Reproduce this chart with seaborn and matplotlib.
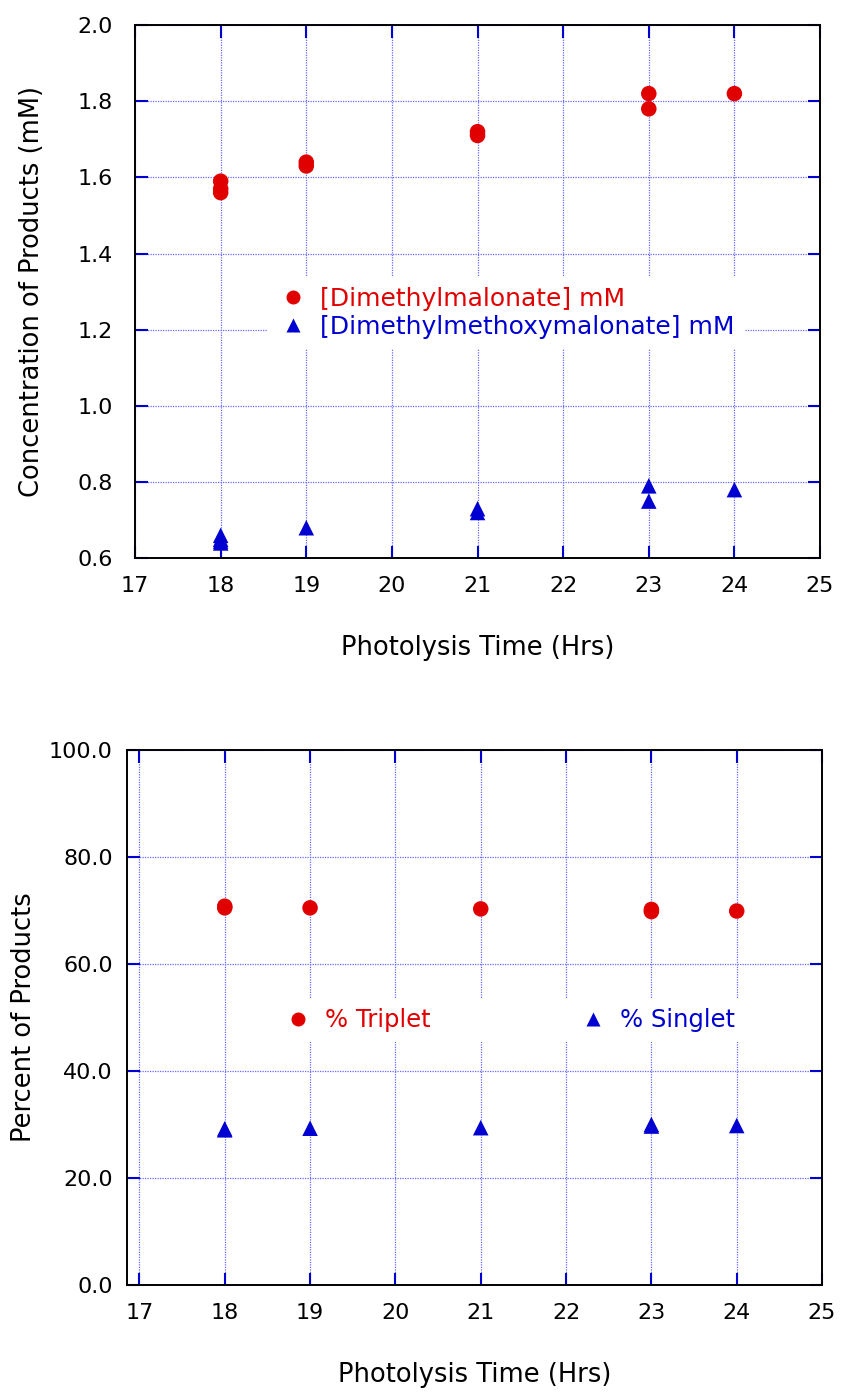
import numpy as np
import pandas as pd
import matplotlib
matplotlib.use("Agg")
import matplotlib.pyplot as plt
import seaborn as sns

# data
dmm_time = [18, 18, 18, 19, 19, 21, 21, 23, 23, 24]
dmm_conc = [1.59, 1.57, 1.56, 1.64, 1.63, 1.72, 1.71, 1.82, 1.78, 1.82]
dmmm_time = [18, 18, 18, 18, 19, 21, 21, 23, 23, 24]
dmmm_conc = [0.66, 0.65, 0.645, 0.64, 0.68, 0.73, 0.72, 0.79, 0.75, 0.78]

pct_time = [18, 18, 19, 21, 23, 23, 24]
triplet_pct = [70.8, 70.5, 70.5, 70.3, 70.2, 69.8, 69.9]
singlet_pct = [29.2, 29.0, 29.3, 29.4, 30.0, 29.7, 29.8]

conc_labels = ["[Dimethylmalonate] mM", "[Dimethylmethoxymalonate] mM"]
pct_labels = ["% Triplet", "% Singlet"]

sns.set_style("white")
plt.rcParams["font.family"] = ["DejaVu Sans"]

RED = "#e00000"
BLUE = "#0000d0"


def style_axes(ax, xlim, ylim, yticks, yfmt, ypad):
    ax.set_xlim(*xlim)
    ax.set_ylim(*ylim)
    ax.set_xticks(range(17, 26))
    ax.set_yticks(yticks)
    ax.set_yticklabels([yfmt.format(v) for v in yticks])
    ax.grid(True, color="#6a6aff", linestyle=(0, (1, 1)), linewidth=0.9)
    ax.set_axisbelow(True)
    ax.tick_params(direction="in", length=9, width=1.5, color=BLUE,
                   bottom=True, left=True, top=True, right=True,
                   labelsize=16, labelcolor="black")
    ax.tick_params(axis="y", pad=ypad)
    ax.tick_params(axis="x", pad=13)
    for s in ax.spines.values():
        s.set_color("black")
        s.set_linewidth(1.4)
    ax.set_xlabel("Photolysis Time (Hrs)", fontsize=18.5, labelpad=28,
                  color="black")


fig = plt.figure(figsize=(8.44, 13.92), dpi=100)

# top panel
ax1 = fig.add_axes([0.16, 0.599, 0.8116, 0.383])
df1 = pd.DataFrame({
    "time": dmm_time + dmmm_time,
    "conc": dmm_conc + dmmm_conc,
    "series": [conc_labels[0]] * len(dmm_time) + [conc_labels[1]] * len(dmmm_time),
})
sns.scatterplot(data=df1, x="time", y="conc", hue="series", style="series",
                palette=[RED, BLUE], markers=["o", "^"], s=125,
                edgecolor="none", ax=ax1, zorder=3)
style_axes(ax1, (17, 25), (0.6, 2.0), np.arange(0.6, 2.01, 0.2), "{:.1f}", 16)
ax1.set_ylabel("Concentration of Products (mM)", fontsize=18.5,
               color="black", va="center")
ax1.yaxis.set_label_coords(-0.15, 0.5)
leg1 = ax1.legend(loc="center", bbox_to_anchor=(0.542, 0.46), fontsize=18,
                  frameon=True, facecolor="white", edgecolor="none", framealpha=1,
                  handlelength=1.2, handletextpad=0.5, labelspacing=0.15,
                  markerscale=0.9, borderpad=0.4)
for t, c in zip(leg1.get_texts(), [RED, BLUE]):
    t.set_color(c)

# bottom panel
ax2 = fig.add_axes([0.150, 0.0769, 0.824, 0.3843])
df2 = pd.DataFrame({
    "time": pct_time + pct_time,
    "pct": triplet_pct + singlet_pct,
    "series": [pct_labels[0]] * len(pct_time) + [pct_labels[1]] * len(pct_time),
})
sns.scatterplot(data=df2, x="time", y="pct", hue="series", style="series",
                palette=[RED, BLUE], markers=["o", "^"], s=125,
                edgecolor="none", ax=ax2, zorder=3)
style_axes(ax2, (16.85, 25), (0, 100), np.arange(0, 101, 20), "{:.1f}", 10)
ax2.set_ylabel("Percent of Products", fontsize=18.5, color="black",
               va="center")
ax2.yaxis.set_label_coords(-0.147, 0.5)
leg2 = ax2.legend(loc="center", bbox_to_anchor=(0.55, 0.495), fontsize=17.5,
                  ncol=2, frameon=True, facecolor="white", edgecolor="none",
                  framealpha=1, handlelength=1.2, handletextpad=0.5,
                  columnspacing=6.1, markerscale=0.9, borderpad=0.4)
for t, c in zip(leg2.get_texts(), [RED, BLUE]):
    t.set_color(c)

fig.savefig("out.png", dpi=100)
